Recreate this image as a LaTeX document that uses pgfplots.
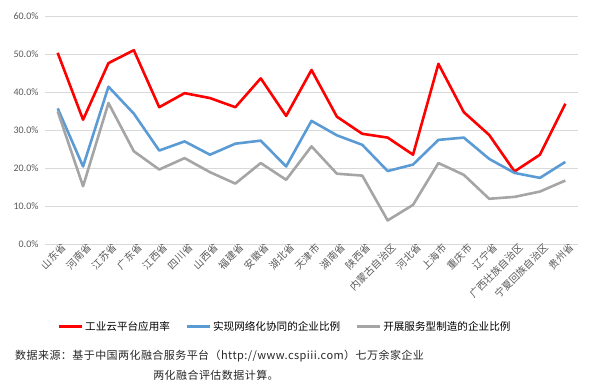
\documentclass[border=0pt]{standalone}
\usepackage{pgfplots}
\pgfplotsset{compat=1.18}
\usepackage{fontspec}
\setmainfont{Carlito}
\newfontfamily\cjk{Noto Sans CJK SC}
\newfontfamily\cjksp[LetterSpace=4]{Noto Sans CJK SC}
\definecolor{cred}{HTML}{FF0000}
\definecolor{cblue}{HTML}{5B9BD5}
\definecolor{cgray}{HTML}{A5A5A5}
\definecolor{cgrid}{HTML}{D9D9D9}
\definecolor{ctext}{HTML}{595959}
\begin{document}
\begin{tikzpicture}[x=1bp,y=1bp]
\useasboundingbox (0,0) rectangle (589,384);
\begin{axis}[
  at={(45bp,140bp)}, anchor=south west,
  scale only axis, width=533bp, height=228bp,
  xmin=-0.5, xmax=20.5, ymin=0, ymax=60,
  axis line style={draw=none},
  ytick={0,10,...,60},
  yticklabel={\pgfmathprintnumber[fixed,fixed zerofill,precision=1]{\tick}\%},
  /pgf/number format/assume math mode=true,
  yticklabel style={font=\fontsize{10bp}{12bp}\selectfont, text=ctext, xshift=-3bp},
  ymajorgrids, grid style={cgrid, line width=0.8bp},
  major tick length=0pt,
  xtick={0,...,20},
  xticklabels={山东省,河南省,江苏省,广东省,江西省,四川省,山西省,福建省,安徽省,湖北省,天津市,湖南省,陕西省,内蒙古自治区,河北省,上海市,重庆市,辽宁省,广西壮族自治区,宁夏回族自治区,贵州省},
  xticklabel style={font=\cjk\fontsize{10bp}{12bp}\selectfont, text=ctext, rotate=45, anchor=north east, inner sep=1bp, xshift=4bp},
  legend style={at={(0.45,-0.363)}, anchor=center, draw=none, legend columns=3,
    font=\cjk\fontsize{10.6bp}{13bp}\selectfont, text=black,
    nodes={inner sep=1.5bp},
    /tikz/every even column/.append style={column sep=14bp}},
  legend image code/.code={\draw[#1, line width=3bp] (0bp,0bp) -- (23bp,0bp);},
  every axis plot/.append style={line width=2.6bp, line join=round},
]
\addplot[cred] coordinates {(0,50.3)(1,32.7)(2,47.6)(3,51.0)(4,36.0)(5,39.7)(6,38.4)(7,36.0)(8,43.6)(9,33.7)(10,45.8)(11,33.5)(12,29.0)(13,28.0)(14,23.5)(15,47.4)(16,34.7)(17,28.7)(18,19.1)(19,23.5)(20,36.9)};
\addlegendentry{工业云平台应用率}
\addplot[cblue] coordinates {(0,35.7)(1,20.4)(2,41.4)(3,34.3)(4,24.6)(5,27.0)(6,23.5)(7,26.4)(8,27.2)(9,20.4)(10,32.4)(11,28.6)(12,26.1)(13,19.2)(14,20.9)(15,27.4)(16,28.0)(17,22.4)(18,18.7)(19,17.4)(20,21.6)};
\addlegendentry{实现网络化协同的企业比例}
\addplot[cgray] coordinates {(0,34.9)(1,15.2)(2,37.1)(3,24.4)(4,19.6)(5,22.6)(6,18.9)(7,15.9)(8,21.3)(9,16.9)(10,25.7)(11,18.5)(12,18.0)(13,6.2)(14,10.3)(15,21.3)(16,18.2)(17,11.9)(18,12.4)(19,13.8)(20,16.7)};
\addlegendentry{开展服务型制造的企业比例}
\end{axis}
\node[anchor=west, inner sep=0pt, font=\cjksp\fontsize{11bp}{13bp}\selectfont, text=black!85] at (15,27.5) {数据来源：基于中国两化融合服务平台（http://www.cspiii.com）七万余家企业};
\node[anchor=center, inner sep=0pt, font=\cjksp\fontsize{11bp}{13bp}\selectfont, text=black!85] at (216,9) {两化融合评估数据计算。};
\end{tikzpicture}
\end{document}
